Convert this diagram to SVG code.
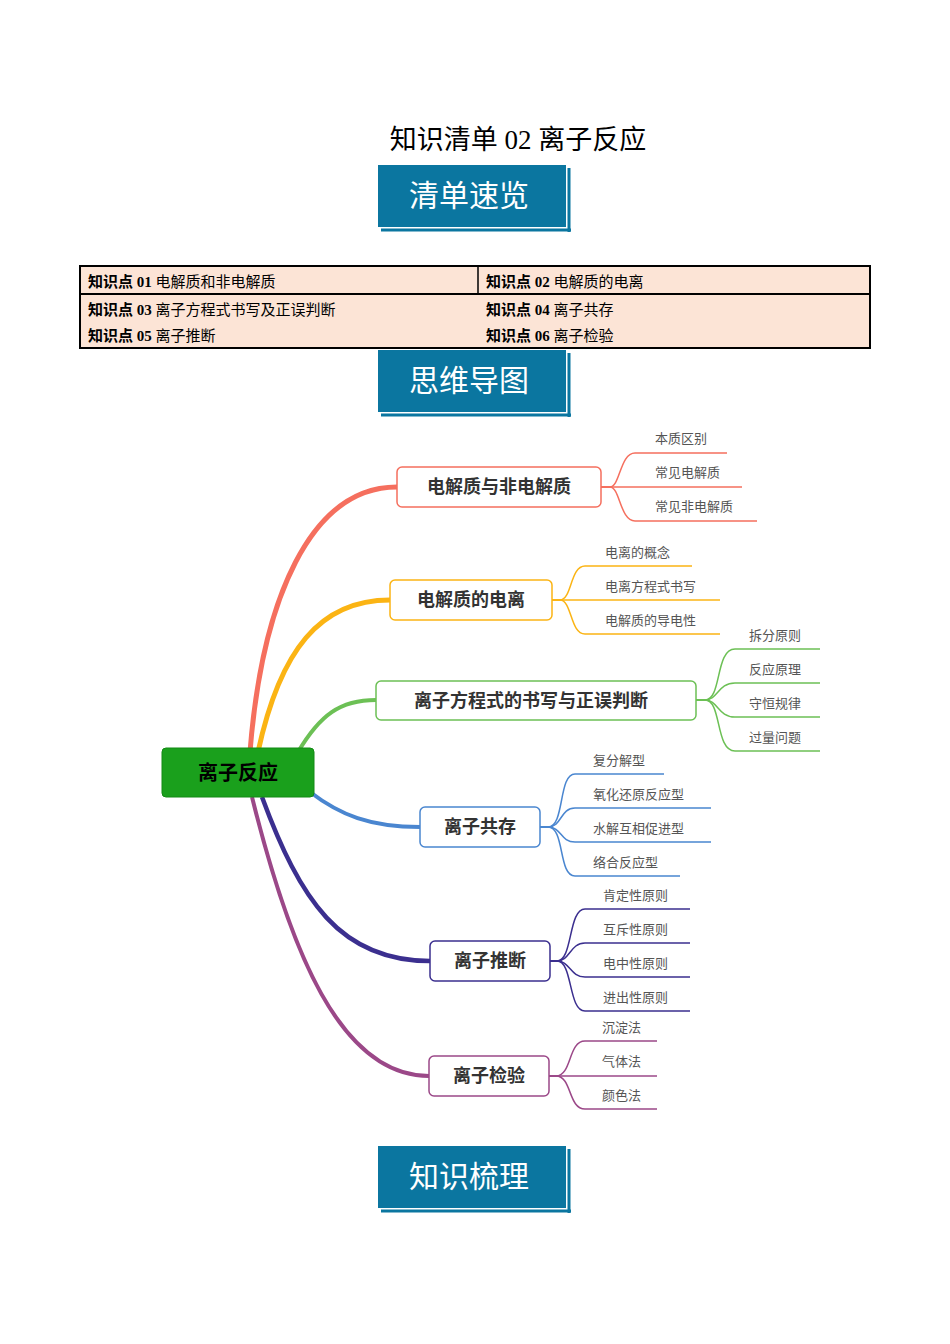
<svg xmlns="http://www.w3.org/2000/svg" width="950" height="1344" viewBox="0 0 950 1344">
<style>
.ban{fill:#0b76a0}
.bs{stroke:#0b76a0;stroke-width:3;fill:none}
.bt{fill:#fff;font:30px "Noto Sans CJK SC",sans-serif;text-anchor:middle}
.tb{font:15px "Liberation Serif","Noto Sans CJK SC",serif}
.tb tspan.b{font-weight:bold}
.nt{font:bold 18px "Noto Sans CJK SC",sans-serif;fill:#333;text-anchor:middle}
.lt{font:13px "Noto Sans CJK SC",sans-serif;fill:#555}
.c{fill:none}
</style>
<rect width="950" height="1344" fill="#fff"/>
<text x="518" y="149" font-family="'Liberation Serif','Noto Sans CJK SC',serif" font-size="27" text-anchor="middle">知识清单 02  离子反应</text>
<g id="banner1"><rect class="ban" x="378" y="165" width="188" height="62"/><path class="bs" d="M569,168V232M381,230H571"/><text class="bt" x="469" y="206">清单速览</text></g>
<g id="table">
<rect x="80" y="266" width="790" height="82" fill="#fce4d6" stroke="#000" stroke-width="2"/>
<line x1="80" y1="294" x2="870" y2="294" stroke="#000" stroke-width="2"/>
<line x1="478" y1="266" x2="478" y2="294" stroke="#000" stroke-width="1.5"/>
<text class="tb" x="88" y="287"><tspan class="b">知识点</tspan> <tspan class="b">01</tspan> 电解质和非电解质</text>
<text class="tb" x="486" y="287"><tspan class="b">知识点</tspan> <tspan class="b">02</tspan> 电解质的电离</text>
<text class="tb" x="88" y="315"><tspan class="b">知识点</tspan> <tspan class="b">03</tspan> 离子方程式书写及正误判断</text>
<text class="tb" x="486" y="315"><tspan class="b">知识点</tspan> <tspan class="b">04</tspan> 离子共存</text>
<text class="tb" x="88" y="341"><tspan class="b">知识点</tspan> <tspan class="b">05</tspan> 离子推断</text>
<text class="tb" x="486" y="341"><tspan class="b">知识点</tspan> <tspan class="b">06</tspan> 离子检验</text>
</g>
<g id="banner2"><rect class="ban" x="378" y="350" width="188" height="62"/><path class="bs" d="M569,353V417M381,415H571"/><text class="bt" x="469" y="391">思维导图</text></g>
<g id="connectors">
<path class="c" stroke="#f56f5e" stroke-width="5" d="M250,752 C262,600 310,487 397,487"/>
<path class="c" stroke="#fbb414" stroke-width="5" d="M258,752 C280,650 320,600 390,600"/>
<path class="c" stroke="#6cc055" stroke-width="4" d="M298,752 C320,715 340,700 376,700"/>
<path class="c" stroke="#4a86d0" stroke-width="4" d="M310,792 C340,815 370,827 420,827"/>
<path class="c" stroke="#3b2f8f" stroke-width="4.5" d="M262,797 C300,900 340,961 430,961"/>
<path class="c" stroke="#9b4888" stroke-width="4" d="M252,797 C290,950 340,1076 429,1076"/>
<g stroke="#f56f5e" stroke-width="1.5" class="c"><path d="M601,487 H610 C620,487 620,453 635,453 H727"/><path d="M601,487 H742"/><path d="M601,487 H610 C620,487 620,521 635,521 H757"/></g>
<g stroke="#fbb414" stroke-width="1.5" class="c"><path d="M552,600 H560 C572,600 570,566 585,566 H692"/><path d="M552,600 H720"/><path d="M552,600 H560 C572,600 570,634 585,634 H720"/></g>
<g stroke="#6cc055" stroke-width="1.5" class="c"><path d="M696,700 H705 C722,700 715,649 735,649 H820"/><path d="M696,700 H705 C718,700 718,683 735,683 H820"/><path d="M696,700 H705 C718,700 718,717 735,717 H820"/><path d="M696,700 H705 C722,700 715,751 735,751 H820"/></g>
<g stroke="#4a86d0" stroke-width="1.5" class="c"><path d="M540,827 H548 C565,827 558,774 575,774 H664"/><path d="M540,827 H548 C562,827 560,808 575,808 H711"/><path d="M540,827 H548 C562,827 560,842 575,842 H711"/><path d="M540,827 H548 C565,827 558,876 575,876 H680"/></g>
<g stroke="#3b2f8f" stroke-width="1.5" class="c"><path d="M550,961 H557 C573,961 568,909 585,909 H690"/><path d="M550,961 H557 C570,961 570,943 585,943 H690"/><path d="M550,961 H557 C570,961 570,977 585,977 H690"/><path d="M550,961 H557 C573,961 568,1011 585,1011 H690"/></g>
<g stroke="#9b4888" stroke-width="1.5" class="c"><path d="M549,1076 H556 C572,1076 568,1041 585,1041 H657"/><path d="M549,1076 H657"/><path d="M549,1076 H556 C572,1076 568,1109 585,1109 H657"/></g>
</g>
<g id="center"><rect x="162" y="748" width="152" height="49" rx="4" fill="#1aa01c" stroke="#128a14"/><text x="238" y="780" font-family="'Noto Sans CJK SC',sans-serif" font-weight="bold" font-size="20" text-anchor="middle">离子反应</text></g>
<g id="n1"><rect x="397" y="467" width="204" height="40" rx="5" fill="#fff" stroke="#f56f5e" stroke-width="1.5"/><text class="nt" x="499" y="493">电解质与非电解质</text></g>
<g id="n2"><rect x="390" y="580" width="162" height="40" rx="5" fill="#fff" stroke="#fbb414" stroke-width="1.5"/><text class="nt" x="471" y="606">电解质的电离</text></g>
<g id="n3"><rect x="376" y="681" width="320" height="39" rx="5" fill="#fff" stroke="#6cc055" stroke-width="1.5"/><text class="nt" x="531" y="707">离子方程式的书写与正误判断</text></g>
<g id="n4"><rect x="420" y="807" width="120" height="40" rx="5" fill="#fff" stroke="#4a86d0" stroke-width="1.5"/><text class="nt" x="480" y="833">离子共存</text></g>
<g id="n5"><rect x="430" y="941" width="120" height="40" rx="5" fill="#fff" stroke="#3b2f8f" stroke-width="1.5"/><text class="nt" x="490" y="967">离子推断</text></g>
<g id="n6"><rect x="429" y="1056" width="120" height="40" rx="5" fill="#fff" stroke="#9b4888" stroke-width="1.5"/><text class="nt" x="489" y="1082">离子检验</text></g>
<g id="leaves">
<text class="lt" x="655" y="443">本质区别</text><text class="lt" x="655" y="477">常见电解质</text><text class="lt" x="655" y="511">常见非电解质</text>
<text class="lt" x="605" y="557">电离的概念</text><text class="lt" x="605" y="591">电离方程式书写</text><text class="lt" x="605" y="625">电解质的导电性</text>
<text class="lt" x="749" y="640">拆分原则</text><text class="lt" x="749" y="674">反应原理</text><text class="lt" x="749" y="708">守恒规律</text><text class="lt" x="749" y="742">过量问题</text>
<text class="lt" x="593" y="765">复分解型</text><text class="lt" x="593" y="799">氧化还原反应型</text><text class="lt" x="593" y="833">水解互相促进型</text><text class="lt" x="593" y="867">络合反应型</text>
<text class="lt" x="603" y="900">肯定性原则</text><text class="lt" x="603" y="934">互斥性原则</text><text class="lt" x="603" y="968">电中性原则</text><text class="lt" x="603" y="1002">进出性原则</text>
<text class="lt" x="602" y="1032">沉淀法</text><text class="lt" x="602" y="1066">气体法</text><text class="lt" x="602" y="1100">颜色法</text>
</g>
<g id="banner3"><rect class="ban" x="378" y="1146" width="188" height="62"/><path class="bs" d="M569,1149V1213M381,1211H571"/><text class="bt" x="469" y="1187">知识梳理</text></g>
</svg>
